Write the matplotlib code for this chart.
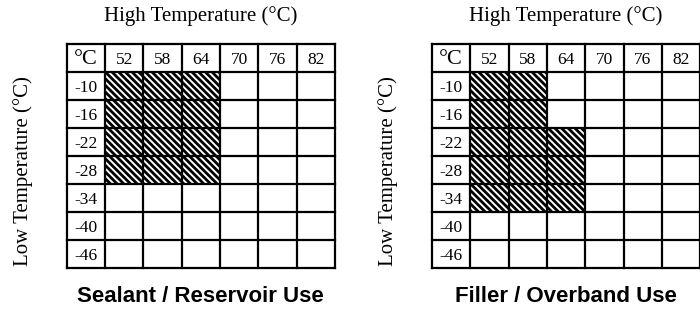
import matplotlib.pyplot as plt

# --- data ---
high_temps = [52, 58, 64, 70, 76, 82]
low_temps = [-10, -16, -22, -28, -34, -40, -46]

# hatched cells: per high-temp column, the warmest and coldest low grade covered
sealant_high = [52, 58, 64]
sealant_low_top = [-10, -10, -10]
sealant_low_bottom = [-28, -28, -28]

filler_high = [52, 58, 64]
filler_low_top = [-10, -10, -22]
filler_low_bottom = [-34, -34, -34]

titles = ["Sealant / Reservoir Use", "Filler / Overband Use"]

plt.rcParams['hatch.linewidth'] = 2.0
SERIF = ['Liberation Serif', 'DejaVu Serif']

W, H = 700, 310
fig = plt.figure(figsize=(W / 100, H / 100), dpi=100)


def draw_panel(left_px, highs, tops, bottoms, title):
    top_px, bot_px, width_px = 44.3, 268.3, 268.3
    ax = fig.add_axes([left_px / W, 1 - bot_px / H, width_px / W, (bot_px - top_px) / H])
    ncol = len(high_temps) + 1
    nrow = len(low_temps) + 1
    ax.set_xlim(0, ncol)
    ax.set_ylim(nrow, 0)
    ax.axis("off")

    # hatched cells
    for h, t, b in zip(highs, tops, bottoms):
        ci = high_temps.index(h) + 1
        r0 = low_temps.index(t) + 1
        r1 = low_temps.index(b) + 1
        ax.bar(ci + 0.5, r1 - r0 + 1, bottom=r0, width=1, facecolor="white",
               edgecolor="black", linewidth=0, hatch="\\" * 5, zorder=1)

    # grid
    for i in range(ncol + 1):
        ax.plot([i, i], [0, nrow], color="black", lw=1.6, clip_on=False,
                solid_capstyle="projecting", zorder=3)
    for j in range(nrow + 1):
        ax.plot([0, ncol], [j, j], color="black", lw=1.6, clip_on=False,
                solid_capstyle="projecting", zorder=3)

    # labels
    ax.text(0.5, 0.55, "°C", ha="center", va="center", fontsize=16, family=SERIF)
    for i, h in enumerate(high_temps):
        ax.text(i + 1.5, 0.55, str(h), ha="center", va="center", fontsize=12.5, family=SERIF)
    for j, lo in enumerate(low_temps):
        ax.text(0.2, j + 1.55, str(lo), ha="left", va="center", fontsize=12.5, family=SERIF)

    cx = (left_px + width_px / 2) / W
    fig.text(cx, 1 - 16 / H, "High Temperature (°C)", ha="center", va="center",
             fontsize=15, family=SERIF)
    fig.text((left_px - 44) / W, 1 - 171 / H, "Low Temperature (°C)", ha="center",
             va="center", rotation=90, fontsize=15, family=SERIF)
    fig.text(cx, 1 - 296 / H, title, ha="center", va="center", fontsize=16,
             fontweight="bold", family=['Liberation Sans', 'DejaVu Sans'])


draw_panel(66.7, sealant_high, sealant_low_top, sealant_low_bottom, titles[0])
draw_panel(432, filler_high, filler_low_top, filler_low_bottom, titles[1])

fig.savefig("out.png", dpi=100)
